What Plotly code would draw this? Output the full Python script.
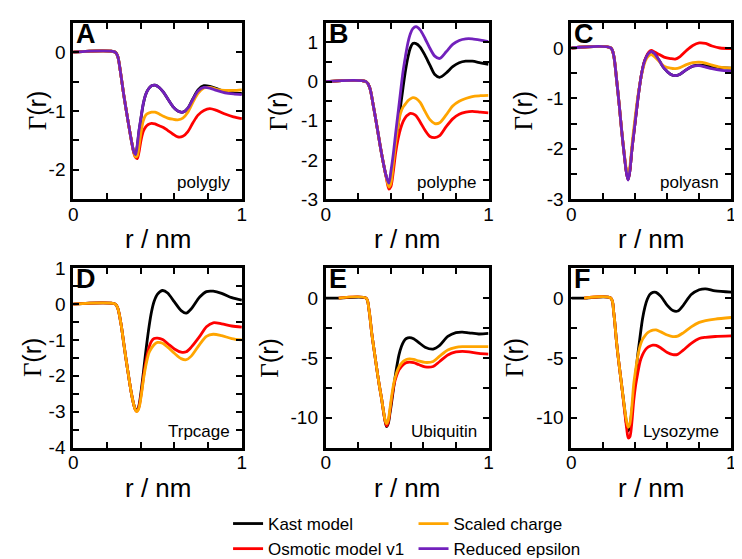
import plotly.graph_objects as go

W, H = 742, 559

series_names = ["Kast model", "Osmotic model v1", "Scaled charge", "Reduced epsilon"]
series_colors = ["#000000", "#ff0000", "#ffa500", "#7221bc"]

# ---------------- Panel A : polygly ----------------
rA = [0.0, 0.25, 0.265, 0.28, 0.30, 0.325, 0.345, 0.36, 0.37, 0.38, 0.39, 0.40, 0.415, 0.43, 0.445, 0.465,
      0.485, 0.51, 0.535, 0.56, 0.59, 0.62, 0.65, 0.68, 0.71, 0.74, 0.775, 0.81, 0.85, 0.90, 0.95, 1.0]
A_kast = [0, 0, -0.08, -0.33, -0.73, -1.17, -1.50, -1.70, -1.75, -1.60, -1.35, -1.16, -0.89, -0.72, -0.63, -0.57,
          -0.56, -0.60, -0.68, -0.79, -0.92, -1.00, -1.02, -0.95, -0.79, -0.64, -0.57, -0.58, -0.62, -0.67, -0.69, -0.70]
A_osm = [0, 0, -0.08, -0.33, -0.73, -1.17, -1.50, -1.72, -1.79, -1.81, -1.70, -1.53, -1.35, -1.27, -1.23, -1.21,
         -1.22, -1.25, -1.28, -1.33, -1.39, -1.44, -1.43, -1.35, -1.20, -1.07, -0.99, -0.96, -0.99, -1.05, -1.10, -1.13]
A_scaled = [0, 0, -0.08, -0.33, -0.73, -1.17, -1.50, -1.71, -1.78, -1.76, -1.60, -1.40, -1.17, -1.07, -1.04, -1.02,
            -1.02, -1.05, -1.09, -1.12, -1.14, -1.15, -1.12, -1.02, -0.85, -0.70, -0.61, -0.60, -0.63, -0.65, -0.65, -0.64]
A_reduced = [0, 0, -0.08, -0.33, -0.73, -1.17, -1.50, -1.70, -1.74, -1.58, -1.33, -1.15, -0.88, -0.72, -0.63, -0.57,
             -0.56, -0.60, -0.68, -0.79, -0.92, -1.00, -1.02, -0.95, -0.80, -0.66, -0.60, -0.61, -0.65, -0.69, -0.71, -0.72]

# ---------------- Panel B : polyphe ----------------
rB = [0.0, 0.248, 0.27, 0.293, 0.315, 0.335, 0.355, 0.372, 0.388, 0.40, 0.415, 0.43, 0.445, 0.46, 0.475, 0.49,
      0.505, 0.52, 0.535, 0.555, 0.58, 0.61, 0.64, 0.67, 0.70, 0.74, 0.78, 0.82, 0.86, 0.90, 0.95, 1.0]
B_kast = [0, 0, -0.15, -0.63, -1.15, -1.65, -2.10, -2.42, -2.62, -2.45, -2.05, -1.60, -1.10, -0.62, -0.15, 0.28,
          0.62, 0.86, 0.97, 0.97, 0.88, 0.67, 0.42, 0.18, 0.11, 0.22, 0.38, 0.48, 0.52, 0.52, 0.48, 0.44]
B_osm = [0, 0, -0.15, -0.63, -1.15, -1.65, -2.10, -2.45, -2.74, -2.68, -2.30, -1.80, -1.45, -1.20, -1.02, -0.91,
         -0.85, -0.81, -0.82, -0.87, -1.03, -1.24, -1.40, -1.43, -1.38, -1.15, -0.95, -0.83, -0.78, -0.76, -0.78, -0.80]
B_scaled = [0, 0, -0.15, -0.63, -1.15, -1.65, -2.10, -2.44, -2.69, -2.60, -2.10, -1.55, -1.10, -0.80, -0.65, -0.57,
            -0.49, -0.44, -0.41, -0.43, -0.53, -0.76, -0.97, -1.07, -1.05, -0.85, -0.62, -0.50, -0.43, -0.38, -0.36, -0.35]
B_reduced = [0, 0, -0.15, -0.63, -1.15, -1.65, -2.10, -2.42, -2.59, -2.30, -1.85, -1.30, -0.78, -0.25, 0.26, 0.65,
             0.99, 1.22, 1.35, 1.40, 1.32, 1.10, 0.85, 0.65, 0.59, 0.76, 0.95, 1.05, 1.09, 1.09, 1.06, 1.02]

# ---------------- Panel C : polyasn ----------------
rC = [0.0, 0.247, 0.265, 0.282, 0.30, 0.315, 0.332, 0.345, 0.355, 0.365, 0.38, 0.395, 0.41, 0.425, 0.44, 0.455,
      0.47, 0.485, 0.50, 0.52, 0.55, 0.58, 0.62, 0.65, 0.68, 0.72, 0.76, 0.80, 0.84, 0.88, 0.93, 1.0]
C_kast = [0, 0, -0.15, -0.60, -1.15, -1.65, -2.15, -2.48, -2.61, -2.46, -1.98, -1.58, -1.17, -0.80, -0.50, -0.29,
          -0.17, -0.10, -0.07, -0.11, -0.25, -0.40, -0.52, -0.55, -0.52, -0.43, -0.36, -0.34, -0.35, -0.37, -0.39, -0.40]
C_osm = [0, 0, -0.15, -0.60, -1.15, -1.65, -2.15, -2.48, -2.61, -2.46, -1.98, -1.58, -1.17, -0.80, -0.50, -0.29,
         -0.16, -0.08, -0.05, -0.08, -0.13, -0.18, -0.21, -0.22, -0.17, -0.05, 0.05, 0.10, 0.09, 0.04, 0.00, -0.01]
C_scaled = [0, 0, -0.15, -0.60, -1.15, -1.65, -2.12, -2.42, -2.52, -2.38, -1.90, -1.48, -1.10, -0.78, -0.52, -0.33,
            -0.21, -0.15, -0.13, -0.17, -0.27, -0.36, -0.40, -0.41, -0.39, -0.33, -0.29, -0.28, -0.30, -0.34, -0.38, -0.40]
C_reduced = [0, 0, -0.15, -0.60, -1.15, -1.65, -2.15, -2.48, -2.62, -2.46, -1.98, -1.58, -1.17, -0.80, -0.50, -0.29,
             -0.17, -0.10, -0.07, -0.11, -0.25, -0.40, -0.52, -0.55, -0.52, -0.43, -0.36, -0.35, -0.38, -0.41, -0.44, -0.46]

# ---------------- Panel D : Trpcage ----------------
rD = [0.0, 0.25, 0.265, 0.284, 0.30, 0.314, 0.33, 0.344, 0.355, 0.366, 0.376, 0.386, 0.395, 0.405, 0.42, 0.435,
      0.45, 0.465, 0.48, 0.50, 0.53, 0.56, 0.60, 0.64, 0.67, 0.70, 0.75, 0.79, 0.83, 0.88, 0.94, 1.0]
D_kast = [0, 0, -0.12, -0.57, -1.10, -1.56, -2.05, -2.46, -2.72, -2.90, -2.97, -2.90, -2.70, -2.35, -1.75, -1.15,
          -0.62, -0.20, 0.08, 0.28, 0.38, 0.31, 0.06, -0.18, -0.25, -0.13, 0.20, 0.35, 0.36, 0.30, 0.18, 0.11]
D_osm = [0, 0, -0.12, -0.57, -1.10, -1.56, -2.05, -2.46, -2.72, -2.92, -2.99, -2.93, -2.75, -2.45, -1.92, -1.50,
         -1.20, -1.03, -0.96, -0.95, -0.99, -1.10, -1.25, -1.34, -1.33, -1.20, -0.90, -0.63, -0.52, -0.55, -0.61, -0.64]
D_scaled = [0, 0, -0.12, -0.57, -1.10, -1.56, -2.05, -2.46, -2.72, -2.92, -3.00, -2.95, -2.80, -2.50, -2.00, -1.62,
            -1.35, -1.22, -1.13, -1.07, -1.09, -1.20, -1.37, -1.52, -1.55, -1.45, -1.12, -0.90, -0.84, -0.88, -0.96, -1.00]

# ---------------- Panel E : Ubiquitin ----------------
rE = [0.0, 0.08, 0.248, 0.265, 0.283, 0.30, 0.313, 0.328, 0.343, 0.355, 0.365, 0.374, 0.384, 0.395, 0.405, 0.42,
      0.435, 0.45, 0.465, 0.48, 0.495, 0.515, 0.54, 0.57, 0.61, 0.66, 0.70, 0.75, 0.80, 0.84, 0.88, 0.94, 1.0]
E_kast = [0, 0, 0, -0.9, -2.97, -4.6, -5.85, -7.2, -8.4, -9.5, -10.3, -10.75, -10.5, -9.6, -8.7, -7.2,
          -5.85, -4.75, -4.05, -3.6, -3.38, -3.30, -3.40, -3.70, -4.10, -4.26, -3.95, -3.20, -2.88, -2.84, -2.90, -3.00, -2.95]
E_osm = [None, 0, 0, -0.9, -2.97, -4.6, -5.85, -7.2, -8.4, -9.5, -10.3, -10.7, -10.4, -9.4, -8.45, -7.2,
         -6.5, -6.0, -5.72, -5.52, -5.40, -5.36, -5.40, -5.55, -5.75, -5.72, -5.30, -4.75, -4.50, -4.46, -4.50, -4.62, -4.68]
E_scaled = [None, 0, 0, -0.9, -2.97, -4.6, -5.85, -7.2, -8.4, -9.45, -10.2, -10.5, -10.2, -9.2, -8.2, -7.0,
            -6.25, -5.75, -5.45, -5.25, -5.13, -5.08, -5.12, -5.25, -5.38, -5.30, -4.85, -4.33, -4.12, -4.06, -4.05, -4.05, -4.06]

# ---------------- Panel F : Lysozyme ----------------
rF = [0.0, 0.08, 0.247, 0.265, 0.282, 0.297, 0.312, 0.325, 0.337, 0.347, 0.356, 0.366, 0.377, 0.39, 0.402, 0.415,
      0.43, 0.445, 0.46, 0.475, 0.49, 0.51, 0.53, 0.56, 0.60, 0.635, 0.665, 0.70, 0.75, 0.80, 0.84, 0.90, 1.0]
F_kast = [0, 0, 0, -1.2, -3.6, -5.4, -7.0, -8.4, -9.7, -10.7, -11.1, -10.7, -9.6, -8.0, -6.4, -4.8,
          -3.2, -1.75, -0.75, -0.10, 0.30, 0.48, 0.48, 0.15, -0.60, -1.03, -1.08, -0.60, 0.30, 0.70, 0.78, 0.60, 0.50]
F_osm = [None, 0, 0, -1.2, -3.6, -5.4, -7.0, -8.5, -9.9, -11.0, -11.7, -11.6, -10.6, -8.6, -7.3, -6.3,
         -5.3, -4.75, -4.38, -4.15, -4.02, -3.93, -3.95, -4.17, -4.55, -4.72, -4.70, -4.35, -3.78, -3.38, -3.28, -3.21, -3.16]
F_scaled = [None, 0, 0, -1.2, -3.6, -5.4, -7.0, -8.4, -9.6, -10.4, -10.8, -10.5, -9.3, -7.2, -6.0, -4.9,
            -4.0, -3.45, -3.15, -2.92, -2.78, -2.68, -2.66, -2.82, -3.08, -3.22, -3.18, -2.90, -2.40, -2.03, -1.88, -1.75, -1.62]

# ---------------- tick labels ----------------
x_tickvals = [0, 0.2, 0.4, 0.6, 0.8, 1.0]
x_ticktext = ["0", "", "", "", "", "1"]
yA_tickvals = [-2.5, -2, -1.5, -1, -0.5, 0, 0.5]
yA_ticktext = ["", "-2", "", "-1", "", "0", ""]
yB_tickvals = [-3, -2.5, -2, -1.5, -1, -0.5, 0, 0.5, 1, 1.5]
yB_ticktext = ["-3", "", "-2", "", "-1", "", "0", "", "1", ""]
yC_tickvals = [-3, -2.5, -2, -1.5, -1, -0.5, 0, 0.5]
yC_ticktext = ["-3", "", "-2", "", "-1", "", "0", ""]
yD_tickvals = [-4, -3.5, -3, -2.5, -2, -1.5, -1, -0.5, 0, 0.5, 1]
yD_ticktext = ["-4", "", "-3", "", "-2", "", "-1", "", "0", "", "1"]
yEF_tickvals = [-12.5, -10, -7.5, -5, -2.5, 0, 2.5]
yEF_ticktext = ["", "-10", "", "-5", "", "0", ""]

panels = [
    dict(r=rA, ys=[A_kast, A_osm, A_scaled, A_reduced], letter="A", name="polygly", yr=[-2.5, 0.5],
         tv=yA_tickvals, tt=yA_ticktext, col=0, row=0, ytx=-36),
    dict(r=rB, ys=[B_kast, B_osm, B_scaled, B_reduced], letter="B", name="polyphe", yr=[-3, 1.5],
         tv=yB_tickvals, tt=yB_ticktext, col=1, row=0, ytx=-48),
    dict(r=rC, ys=[C_kast, C_osm, C_scaled, C_reduced], letter="C", name="polyasn", yr=[-3, 0.5],
         tv=yC_tickvals, tt=yC_ticktext, col=2, row=0, ytx=-48),
    dict(r=rD, ys=[D_kast, D_osm, D_scaled], letter="D", name="Trpcage", yr=[-4, 1],
         tv=yD_tickvals, tt=yD_ticktext, col=0, row=1, ytx=-41),
    dict(r=rE, ys=[E_kast, E_osm, E_scaled], letter="E", name="Ubiquitin", yr=[-12.5, 2.5],
         tv=yEF_tickvals, tt=yEF_ticktext, col=1, row=1, ytx=-57),
    dict(r=rF, ys=[F_kast, F_osm, F_scaled], letter="F", name="Lysozyme", yr=[-12.5, 2.5],
         tv=yEF_tickvals, tt=yEF_ticktext, col=2, row=1, ytx=-57),
]

# page offset (browser body margin) compensation
OFF = 8
col_px = [(69 - OFF, 240 - OFF), (325 - OFF, 490 - OFF), (574 - OFF, 736 - OFF)]
row_px = [(13 - OFF, 197 - OFF), (269 - OFF, 456 - OFF)]

FONT = "Liberation Sans, Arial, Helvetica, sans-serif"

fig = go.Figure()
layout = dict(
    width=W, height=H, margin=dict(l=0, r=0, t=0, b=0),
    paper_bgcolor="white", plot_bgcolor="white",
    font=dict(family=FONT, color="black"),
    annotations=[],
)

for i, p in enumerate(panels, start=1):
    x0, x1 = col_px[p["col"]]
    y0, y1 = row_px[p["row"]]
    xd = [x0 / W, x1 / W]
    yd = [1 - y1 / H, 1 - y0 / H]
    sfx = "" if i == 1 else str(i)
    for k, yv in enumerate(p["ys"]):
        fig.add_trace(go.Scatter(
            x=p["r"], y=yv, mode="lines",
            line=dict(color=series_colors[k], width=2.8, shape="spline", smoothing=0.8),
            name=series_names[k],
            showlegend=(i == 1),
            legend="legend" if k < 2 else "legend2",
            xaxis="x" + sfx, yaxis="y" + sfx, hoverinfo="skip",
        ))
    common = dict(showline=True, linewidth=2.8, linecolor="black", mirror="allticks",
                  ticks="inside", ticklen=6, tickwidth=1.5, tickcolor="black",
                  showgrid=False, zeroline=False, tickfont=dict(size=19, family=FONT),
                  tickmode="array")
    layout["xaxis" + sfx] = dict(domain=xd, anchor="y" + sfx, range=[0, 1],
                                 tickvals=x_tickvals, ticktext=x_ticktext, ticklabelstandoff=-4, **common)
    layout["yaxis" + sfx] = dict(domain=yd, anchor="x" + sfx, range=p["yr"],
                                 tickvals=p["tv"], ticktext=p["tt"], ticklabelstandoff=1, **common)
    # panel letter
    layout["annotations"].append(dict(
        text="<b>%s</b>" % p["letter"], xref="paper", yref="paper", x=xd[0], y=yd[1],
        xanchor="left", yanchor="top", xshift=1, yshift=6, showarrow=False,
        font=dict(size=27, family=FONT, color="black")))
    # sample name
    layout["annotations"].append(dict(
        text=p["name"], xref="paper", yref="paper", x=xd[1], y=yd[0],
        xanchor="right", yanchor="bottom", xshift=-10, yshift=5, showarrow=False,
        font=dict(size=17, family=FONT, color="black")))
    # x title
    layout["annotations"].append(dict(
        text="r / nm", xref="paper", yref="paper", x=(xd[0] + xd[1]) / 2, y=yd[0],
        xanchor="center", yanchor="middle", yshift=-40, showarrow=False,
        font=dict(size=26, family=FONT, color="black")))
    # y title
    layout["annotations"].append(dict(
        text="<span style=\"font-family:Liberation Serif\">Γ</span>(r)", xref="paper", yref="paper",
        x=xd[0], y=(yd[0] + yd[1]) / 2, xanchor="center", yanchor="middle", xshift=p["ytx"],
        textangle=-90, showarrow=False, font=dict(size=25, family=FONT, color="black")))

layout["legend"] = dict(x=218 / W, y=1 - 509 / H, xanchor="left", yanchor="top",
                        bgcolor="rgba(0,0,0,0)", font=dict(size=17, family=FONT, color="black"))
layout["legend2"] = dict(x=406 / W, y=1 - 509 / H, xanchor="left", yanchor="top",
                         bgcolor="rgba(0,0,0,0)", font=dict(size=17, family=FONT, color="black"))

fig.update_layout(**layout)
fig.write_html("out.html")
